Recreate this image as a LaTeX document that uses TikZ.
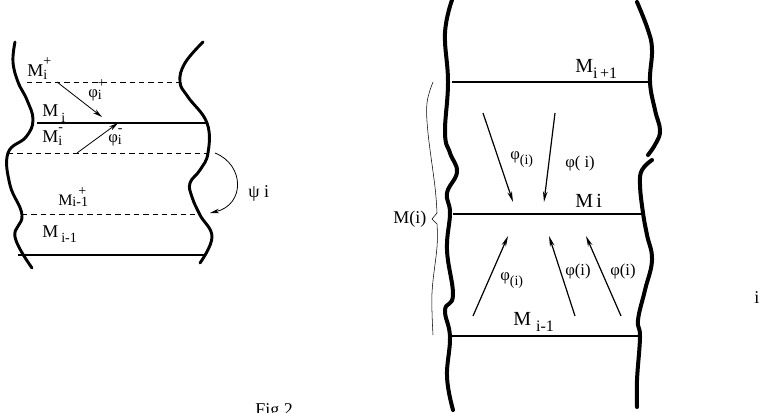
\documentclass[tikz,border=0pt]{standalone}
\usepackage{fontspec}
\setmainfont{Liberation Serif}
\usetikzlibrary{arrows.meta}
\newcommand{\scr}{\fontsize{10.5}{12}\selectfont}
\newcommand{\subsup}[2]{\rlap{\raisebox{0.62em}{\scr #2}}\raisebox{-0.12em}{\scr #1}}
\newcommand{\sub}[1]{\raisebox{-0.3em}{\scr #1}}
\newcommand{\bigsub}[1]{\raisebox{-0.3em}{\fontsize{12}{14}\selectfont #1}}

\begin{document}
\begin{tikzpicture}[x=0.75pt, y=-0.75pt, inner sep=0pt]
      \tikzset{
	  wall/.style={draw=black, line width=2.2pt, line join=round, line cap=round},
	  level/.style={draw=black, line width=0.9pt},
	  cut/.style={draw=black, thin, dash pattern=on 4pt off 3pt},
	  map/.style={draw=black, line width=0.6pt, -{Stealth[length=7pt, width=3.5pt]}},
	  bigmap/.style={draw=black, line width=0.9pt, -{Stealth[length=8pt, width=3.5pt]}},
	  lab/.style={anchor=base west, font=\fontsize{13.5}{15}\selectfont},
	  biglab/.style={anchor=base west, font=\fontsize{15}{17}\selectfont},
	  smalllab/.style={anchor=base west, font=\fontsize{12.5}{14}\selectfont}
      }
      \useasboundingbox (0,0) rectangle (773,413);

      % left picture
      \draw[wall] plot[smooth, tension=0.7] coordinates {(15,42) (13,62) (18,82) (27,100) (33,120) (26,137) (8,153) (10,185) (22,215) (15,237) (32,268)};
      \draw[wall] plot[smooth, tension=0.7] coordinates {(203,42) (185,63) (180,82) (188,97) (207,123) (208,153) (200,170) (190,183) (192,197) (200,215) (212,237) (200,263)};

      \draw[cut] (27,82) -- (180,82);
      \draw[level] (37,123) -- (207,123);
      \draw[cut] (8,153) -- (208,153);
      \draw[cut] (22,214) -- (200,214);
      \draw[level] (18,255) -- (205,255);

      \node[lab] (Mip) at (27,77) {M\subsup{i}{+}};
      \node[lab] (Mi) at (42,117) {M\,\sub{i}};
      \node[lab] (Mim) at (42,143) {M\subsup{i}{-}};
      \node[lab, font=\fontsize{12}{13}\selectfont] (Mjp) at (58,205) {M\subsup{i-1}{\ \,+}};
      \node[lab] (Mj) at (42,237) {M\,\sub{i-1}};
      \node[smalllab] (phip) at (88,98) {φ\subsup{i}{+}};
      \node[smalllab] (phim) at (108,143) {φ\subsup{i}{-}};
      \node[lab] (psi) at (248,197) {ψ i};

      \coordinate (pA) at (57,82);   \coordinate (pB) at (102,117);
      \coordinate (mA) at (77,153);  \coordinate (mB) at (118,123);
      \coordinate (sA) at (215,153); \coordinate (sB) at (210,213);
      \draw[map] (pA) -- (pB);
      \draw[map] (mA) -- (mB);
      \draw[map] (sA) .. controls (245,165) and (245,205) .. (sB);

      \node[lab] (fig) at (255,415) {Fig 2};

      % right picture
      \draw[wall, line width=3pt] plot[smooth, tension=0.7] coordinates {(452,0) (445,33) (448,82) (445,133) (450,153) (457,172) (447,193) (450,213) (447,250) (453,295) (445,310) (450,337) (447,377) (453,410)};
      \draw[wall, line width=3pt] plot[smooth, tension=0.7] coordinates {(637,2) (648,30) (652,50) (650,82) (655,110) (660,130) (656,143) (648,155)};
      \draw[wall, line width=3pt] plot[smooth, tension=0.7] coordinates {(652,160) (642,170) (640,185) (643,213) (647,235) (652,260) (645,290) (638,320) (640,337) (637,380) (637,407)};

      \draw[level] (452,82) -- (650,82);
      \draw[level] (453,214) -- (643,214);
      \draw[level] (449,336) -- (640,336);

      \node[biglab] (Mnext) at (575,73) {M\bigsub{i\,+1}};
      \node[biglab] (Mmid) at (575,208) {M\,i};
      \node[biglab] (Mprev) at (513,325) {M\ \bigsub{i-1}};
      \node[lab] (Mgroup) at (393,223) {M(i)};
      \node[lab] (iright) at (754,303) {i};

      \node[smalllab] (phiA) at (510,160) {φ\sub{(i)}};
      \node[smalllab] (phiB) at (565,168) {φ( i)};
      \node[smalllab] (phiC) at (500,280) {φ\sub{(i)}};
      \node[smalllab] (phiD) at (565,275) {φ(i)};
      \node[smalllab] (phiE) at (610,275) {φ(i)};

      \coordinate (dA1) at (483,113); \coordinate (dA2) at (513,202);
      \coordinate (dB1) at (555,113); \coordinate (dB2) at (544,202);
      \coordinate (uA1) at (473,316); \coordinate (uA2) at (508,236);
      \coordinate (uB1) at (575,316); \coordinate (uB2) at (549,236);
      \coordinate (uC1) at (621,316); \coordinate (uC2) at (586,236);
      \foreach \a/\b in {dA1/dA2, dB1/dB2, uA1/uA2, uB1/uB2, uC1/uC2}
	  \draw[bigmap] (\a) -- (\b);

      % brace for M(i)
      \draw[thin] plot[smooth, tension=0.6] coordinates {(433,82) (427,103) (428,133) (435,187) (437,213)} -- (432,219) -- (437,224)
	  plot[smooth, tension=0.6] coordinates {(437,224) (437,247) (432,293) (433,335)};
\end{tikzpicture}
\end{document}
